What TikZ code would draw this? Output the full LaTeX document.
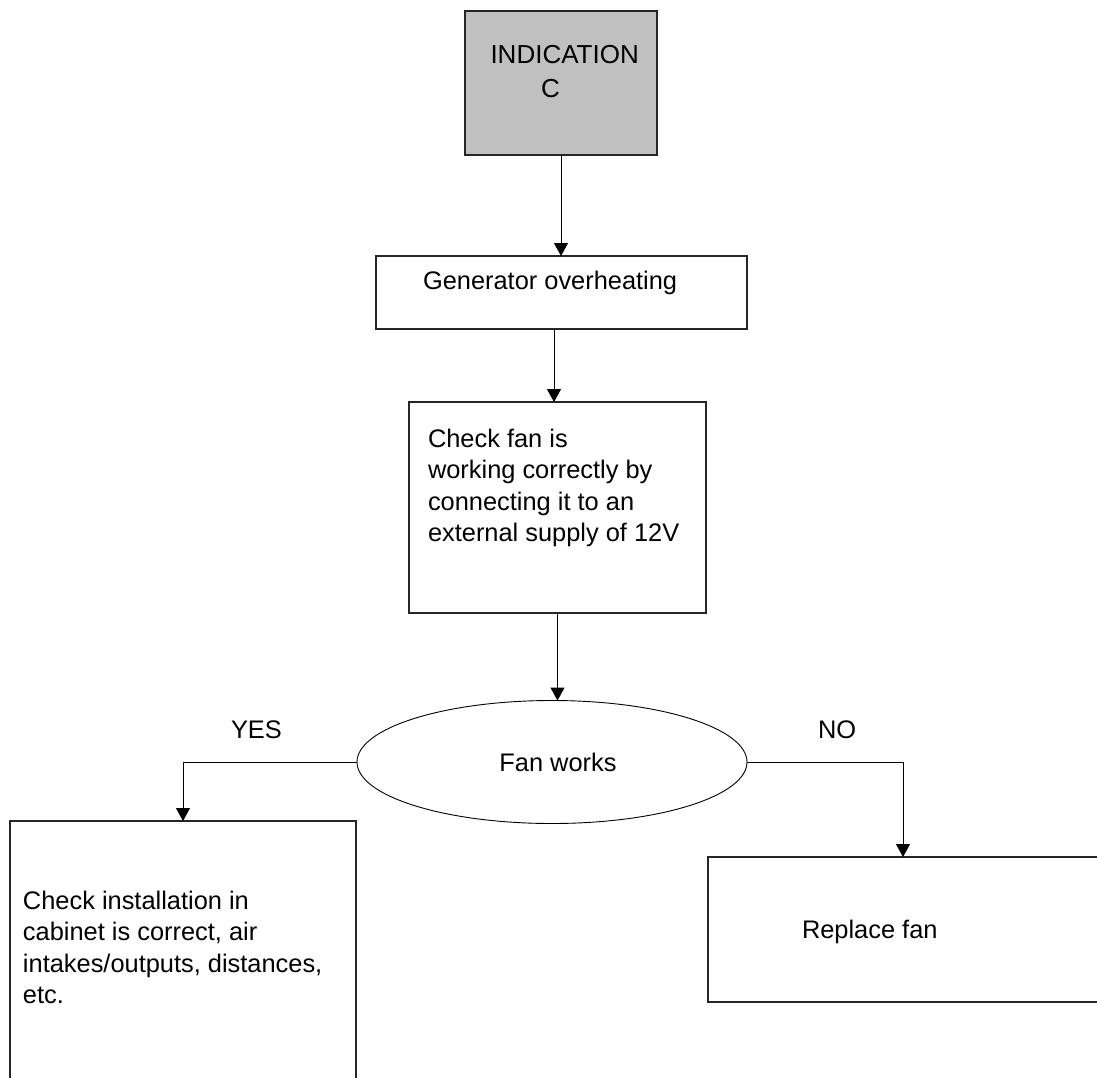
\documentclass[tikz,border=0pt]{standalone}
\usepackage{fontspec}
\setmainfont{Liberation Sans}
\usetikzlibrary{arrows.meta,shapes.geometric}
\newcommand{\leadrule}{\rule{0pt}{20pt}}
\tikzset{
  box/.style={draw=black!85, line width=1.1pt, rectangle, outer sep=0pt, inner sep=0pt},
  oval/.style={draw=black, line width=0.9pt, ellipse, outer sep=0pt, inner sep=0pt},
  conn/.style={draw=black, line width=1pt, -{Triangle[width=14pt,length=13pt]}},
  txt/.style={inner sep=0pt, outer sep=0pt, align=left, anchor=north west,
    font=\fontsize{25.4}{31.5}\selectfont},
}
\begin{document}
\begin{tikzpicture}[x=1pt,y=-1pt]
\useasboundingbox (0,0) rectangle (1097,1077);
\clip (0,0) rectangle (1097,1077);
% boxes
\node[box, fill={rgb,255:red,192;green,192;blue,192}, minimum width=192pt, minimum height=144pt] (ind) at (561,83) {};
\node[box, minimum width=371pt, minimum height=73pt] (gen) at (561.5,292.5) {};
\node[box, minimum width=297pt, minimum height=211pt] (chk) at (557.5,507.5) {};
\node[oval, minimum width=390pt, minimum height=123pt] (fan) at (552,762) {};
\node[box, minimum width=346pt, minimum height=299pt] (inst) at (183,970.5) {};
\node[box, minimum width=390pt, minimum height=145pt] (rep) at (903,929.5) {};
% texts
\node[txt, font=\fontsize{26}{34.5}\selectfont] (tind) at (490.5,43) {\leadrule INDICATION\\\hspace*{50.5pt}C};
\node[txt] (tgen) at (423,269) {\leadrule Generator overheating};
\node[txt] (tchk) at (428,427) {\leadrule Check fan is\\working correctly by\\connecting it to an\\external supply of 12V};
\node[inner sep=0pt, anchor=base, font=\fontsize{25.4}{31.5}\selectfont] (tfan) at (558,771) {Fan works};
\node[txt] (tyes) at (231,718) {\leadrule YES};
\node[txt] (tno) at (818,718) {\leadrule NO};
\node[txt] (tinst) at (23,889) {\leadrule Check installation in\\cabinet is correct, air\\intakes/outputs, distances,\\etc.};
\node[txt] (trep) at (802,918) {\leadrule Replace fan};
% connectors
\draw[conn] (ind.south) -- (ind.south |- gen.north);
\draw[conn] ([xshift=-7.5pt]gen.south) -- ([xshift=-7.5pt]gen.south |- chk.north);
\draw[conn] (chk.south) -- (chk.south |- fan.north);
\draw[conn] (fan.west) -| (inst.north);
\draw[conn] (fan.east) -| (rep.north);
\end{tikzpicture}
\end{document}
